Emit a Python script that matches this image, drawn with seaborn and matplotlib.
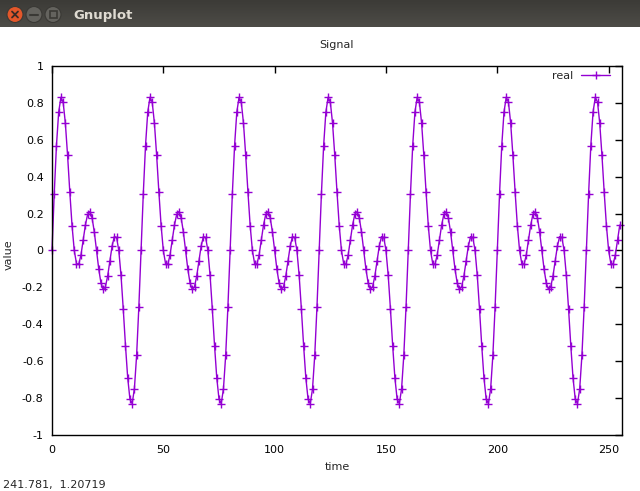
import numpy as np
import matplotlib
matplotlib.use("Agg")
import matplotlib.pyplot as plt
from matplotlib.patches import Circle, Rectangle
import seaborn as sns

# one period (40 samples) of the signal; it repeats over the 256 samples
period_values = [0.000, 0.307, 0.569, 0.750, 0.830, 0.805, 0.690, 0.515, 0.317, 0.135,
                 0.000, -0.071, -0.075, -0.025, 0.056, 0.138, 0.196, 0.211, 0.177, 0.101,
                 0.000, -0.101, -0.177, -0.211, -0.196, -0.138, -0.056, 0.025, 0.075, 0.071,
                 0.000, -0.135, -0.317, -0.515, -0.690, -0.805, -0.830, -0.750, -0.569, -0.307]
n_samples = 256
time = list(range(n_samples))
real = (period_values * 7)[:n_samples]

x_ticks = [0, 50, 100, 150, 200, 250]
x_tick_labels = ["0", "50", "100", "150", "200", "250"]
y_ticks = [-1, -0.8, -0.6, -0.4, -0.2, 0, 0.2, 0.4, 0.6, 0.8, 1]
y_tick_labels = ["-1", "-0.8", "-0.6", "-0.4", "-0.2", "0", "0.2", "0.4", "0.6", "0.8", "1"]

W, H = 640, 491
LINE_COLOR = "#9400d3"

sns.set_style("white")
plt.rcParams["font.family"] = ["DejaVu Sans"]
plt.rcParams["font.size"] = 8

fig = plt.figure(figsize=(W / 100, H / 100), dpi=100)
fig.patch.set_facecolor("white")


def draw_title_bar(fig):
    bar_h = 27
    tb = fig.add_axes([0, 1 - bar_h / H, 1, bar_h / H])
    grad = np.linspace(0, 1, 30).reshape(-1, 1)
    tb.imshow(grad, extent=[0, W, bar_h, 0], aspect="auto",
              cmap=matplotlib.colors.LinearSegmentedColormap.from_list("bar", ["#3c3b37", "#4d4c47"]))
    tb.set_xlim(0, W)
    tb.set_ylim(bar_h, 0)
    tb.axis("off")

    # close / minimise / maximise buttons
    tb.add_patch(Circle((15, 14.5), 8, facecolor="#e4572a", edgecolor="#3a3935", lw=0.8))
    tb.plot([12, 18], [11.5, 17.5], color="#3a2a25", lw=1.3)
    tb.plot([12, 18], [17.5, 11.5], color="#3a2a25", lw=1.3)
    tb.add_patch(Circle((34, 14.5), 8, facecolor="#64635e", edgecolor="#3a3935", lw=0.8))
    tb.plot([30, 38], [14.5, 14.5], color="#3a3935", lw=1.5)
    tb.add_patch(Circle((53, 14.5), 8, facecolor="#64635e", edgecolor="#3a3935", lw=0.8))
    tb.add_patch(Rectangle((49.5, 11), 7, 7, facecolor="none", edgecolor="#3a3935", lw=1.2))
    tb.text(73, 15, "Gnuplot", color="#dfdbd2", fontsize=9.5, fontweight="bold",
            ha="left", va="center")


draw_title_bar(fig)

# plot area in pixel terms: left 52, right 622, top 66, bottom 435
left, right, top, bottom = 52, 622, 66, 435
ax = fig.add_axes([left / W, 1 - bottom / H, (right - left) / W, (bottom - top) / H])

sns.lineplot(x=time, y=real, ax=ax, color=LINE_COLOR, linewidth=1,
             marker="+", markersize=6, markeredgewidth=1, markeredgecolor=LINE_COLOR,
             label="real", clip_on=False)

ax.set_xlim(0, 256)
ax.set_ylim(-1, 1)
ax.set_xticks(x_ticks, x_tick_labels)
ax.set_yticks(y_ticks, y_tick_labels)
ax.tick_params(direction="in", top=True, right=True, length=5, width=1,
               labelsize=8, colors="black")
ax.tick_params(axis="x", pad=7)
ax.tick_params(axis="y", pad=6)
for spine in ax.spines.values():
    spine.set_visible(True)
    spine.set_color("black")
    spine.set_linewidth(1)

ax.set_title("Signal", fontsize=8, pad=13)
ax.set_xlabel("time", fontsize=8)
ax.set_ylabel("value", fontsize=8)
ax.xaxis.set_label_coords(0.5, (bottom - 462) / (bottom - top))
ax.yaxis.set_label_coords((14 - left) / (right - left), 0.49)

ax.legend(loc="upper right", bbox_to_anchor=((610 - left) / (right - left), (bottom - 71) / (bottom - top)),
          frameon=False, markerfirst=False, borderaxespad=0, borderpad=0,
          handlelength=2.6, handletextpad=0.7, fontsize=8)

# status line of the gnuplot window (mouse coordinates)
fig.text(3 / W, 1 - 485 / H, "241.781,  1.20719", fontsize=8, ha="left", va="center")

fig.savefig("out.png", dpi=100)
